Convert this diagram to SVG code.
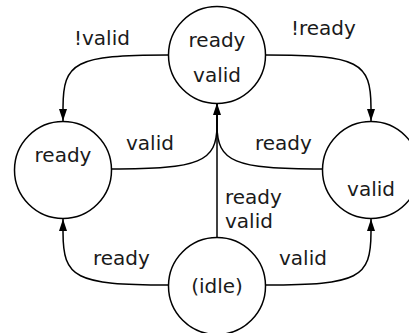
<svg xmlns="http://www.w3.org/2000/svg" width="409" height="333" viewBox="0 0 409 333">
  <style>
    .state { fill: #ffffff; stroke: #000000; stroke-width: 1.5; }
    .edge { fill: none; stroke: #000000; stroke-width: 1.5; }
    text { font-family: "DejaVu Sans", sans-serif; font-size: 20px; fill: #1a1a1a; }
    .mid { text-anchor: middle; }
  </style>
  <defs>
    <marker id="arrow" viewBox="0 0 12 8" refX="12" refY="4" markerWidth="12" markerHeight="8" markerUnits="userSpaceOnUse" orient="auto">
      <path d="M0,0 L12,4 L0,8 Z" fill="#000000"/>
    </marker>
  </defs>

  <g id="connectors">
    <!-- top state out to the sides -->
    <path class="edge" d="M168,55 C 75,55 63,62 63,108 L63,121" marker-end="url(#arrow)"/>
    <path class="edge" d="M266,55 C 359,55 371,62 371,108 L371,121" marker-end="url(#arrow)"/>
    <!-- side states and idle back into the top state -->
    <path class="edge" d="M111,169 C 200,169 217,162 217,125 L217,103" marker-end="url(#arrow)"/>
    <path class="edge" d="M322,169 C 234,169 217,162 217,125 L217,103"/>
    <path class="edge" d="M217,238 L217,103"/>
    <!-- idle out to the sides -->
    <path class="edge" d="M168,285 C 75,285 63,278 63,232 L63,219" marker-end="url(#arrow)"/>
    <path class="edge" d="M266,285 C 359,285 371,278 371,232 L371,219" marker-end="url(#arrow)"/>
  </g>

  <g id="labels">
    <text x="74" y="45">!valid</text>
    <text x="291" y="35">!ready</text>
    <text x="126" y="150">valid</text>
    <text x="255" y="150">ready</text>
    <text x="225" y="204">ready</text>
    <text x="225" y="228">valid</text>
    <text x="93" y="265">ready</text>
    <text x="279" y="265">valid</text>
  </g>

  <g id="state-ready-valid">
    <circle class="state" cx="217" cy="55" r="48.5"/>
    <text class="mid" x="217" y="47">ready</text>
    <text class="mid" x="217" y="82">valid</text>
  </g>

  <g id="state-ready">
    <circle class="state" cx="63" cy="170" r="48.5"/>
    <text class="mid" x="63" y="162">ready</text>
  </g>

  <g id="state-valid">
    <circle class="state" cx="371" cy="170" r="48.5"/>
    <text class="mid" x="371" y="196">valid</text>
  </g>

  <g id="state-idle">
    <circle class="state" cx="217" cy="286" r="48.5"/>
    <text class="mid" x="217" y="293">(idle)</text>
  </g>
</svg>
